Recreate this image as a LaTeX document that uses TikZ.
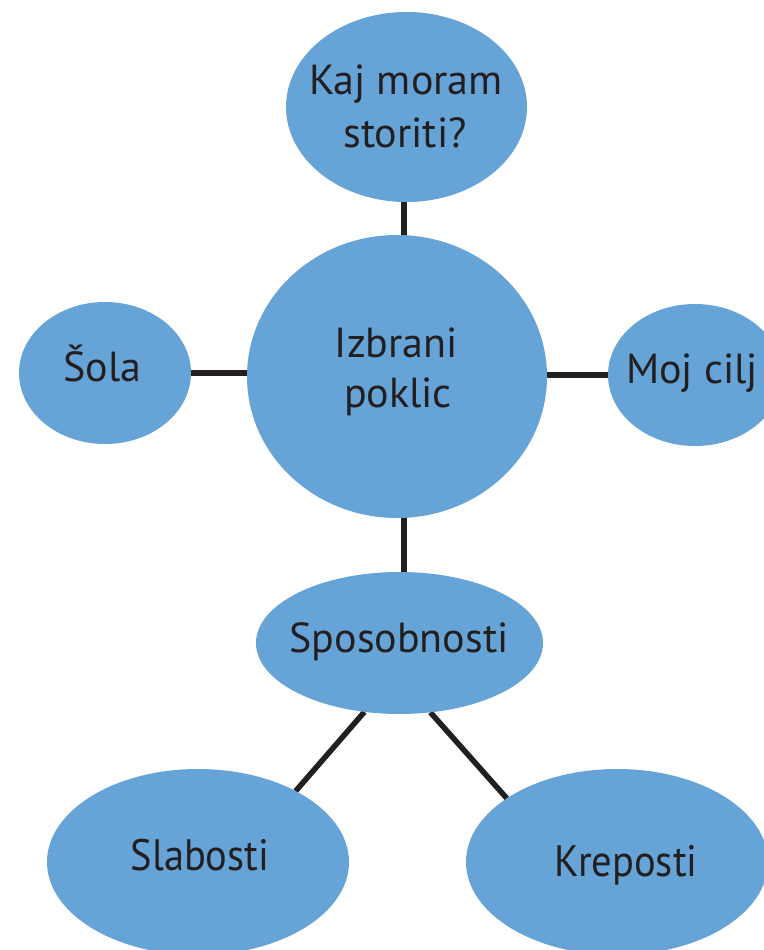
\documentclass[tikz,border=0pt]{standalone}
\usepackage{fontspec}
\setmainfont{PT Sans}
\usetikzlibrary{shapes.geometric,backgrounds}
\definecolor{bub}{RGB}{102,163,214}
\definecolor{ink}{RGB}{35,31,32}
\begin{document}
\begin{tikzpicture}[x=1pt,y=-1pt,
  bubble/.style={ellipse, fill=bub, draw=none, inner sep=0pt, outer sep=0pt},
  lbl/.style={anchor=base, inner sep=0pt, text=ink, font=\fontsize{42}{50}\selectfont},
  clbl/.style={lbl, font=\fontsize{44}{50}\selectfont},
  link/.style={draw=ink, line width=5.5pt}]
\useasboundingbox (0,0) rectangle (763,950);
\coordinate (axis) at (404,0);
\node[bubble, minimum width=241pt, minimum height=190pt] (kaj) at (406.5,107) {};
\node[bubble, minimum width=300pt, minimum height=283pt] (ctr) at (397,376.5) {};
\node[bubble, minimum width=172pt, minimum height=142pt] (sola) at (105,373) {};
\node[bubble, minimum width=174pt, minimum height=142pt] (moj) at (695,375) {};
\node[bubble, minimum width=287pt, minimum height=142pt] (spos) at (399.5,643) {};
\node[bubble, minimum width=302pt, minimum height=186pt] (slab) at (198,862) {};
\node[bubble, minimum width=302pt, minimum height=186pt] (krep) at (617,862) {};

\node[lbl] (kajA) at (406,94) {Kaj moram};
\node[lbl] (kajB) at (405,147) {storiti?};
\node[lbl] (ctrA) at (396.5,357) {Izbrani};
\node[lbl] (ctrB) at (398,407) {poklic};
\node[lbl] (solaT) at (102.5,381.7) {Šola};
\node[lbl] (mojT) at (692,383) {Moj cilj};
\node[lbl] (sposT) at (399,652) {Sposobnosti};
\node[clbl] (slabT) at (200,870) {\scalebox{0.92}[1]{Slabosti}};
\node[clbl] (krepT) at (626,876) {\scalebox{0.92}[1]{Kreposti}};

\begin{pgfonlayer}{background}
\draw[link] (kaj -| axis) -- (ctr -| axis);
\draw[link] (ctr -| axis) -- (spos -| axis);
\draw[link] (sola) -- (sola -| ctr);
\draw[link] (moj) -- (moj -| ctr);
\draw[link] (spos.243) -- (slab.36);
\draw[link] (spos.294) -- (krep.150);
\end{pgfonlayer}
\end{tikzpicture}
\end{document}
